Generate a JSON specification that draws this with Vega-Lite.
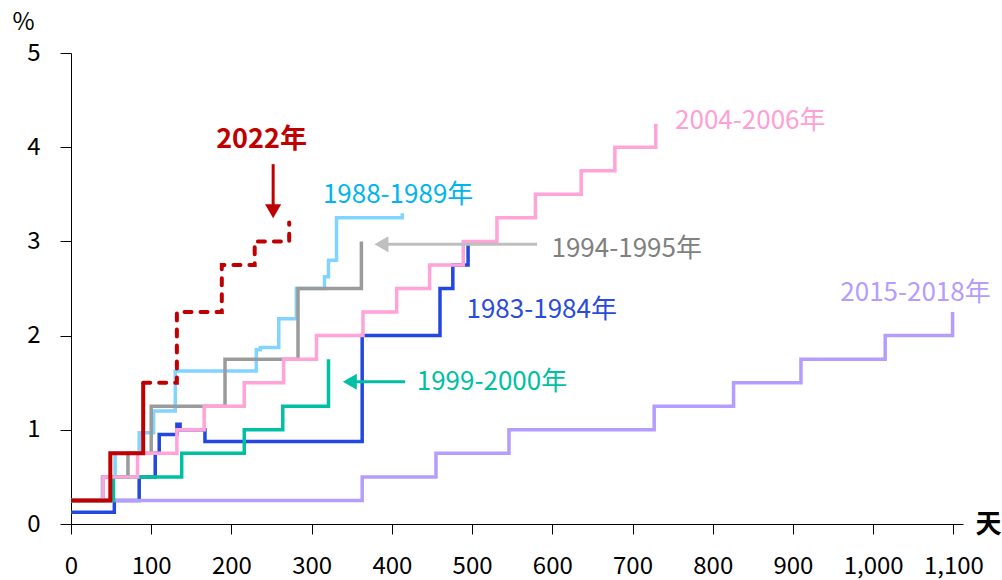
{
  "$schema": "https://vega.github.io/schema/vega-lite/v6.json",
  "width": 892,
  "height": 471,
  "autosize": {"type": "none"},
  "padding": {"left": 71, "top": 53, "right": 39, "bottom": 56},
  "config": {
    "view": {"stroke": null},
    "font": "Noto Sans CJK SC",
    "axis": {"grid": false, "domainColor": "#000000", "tickColor": "#000000", "labelColor": "#000000", "titleColor": "#000000", "labelFont": "Noto Sans CJK SC", "titleFont": "Noto Sans CJK SC"}
  },
  "datasets": {
    "lines": [
      {"series": "1983-1984", "day": 0, "value": 0.125},
      {"series": "1983-1984", "day": 54, "value": 0.25},
      {"series": "1983-1984", "day": 85, "value": 0.5},
      {"series": "1983-1984", "day": 105, "value": 0.75},
      {"series": "1983-1984", "day": 110, "value": 0.95},
      {"series": "1983-1984", "day": 132, "value": 1.06},
      {"series": "1983-1984", "day": 136, "value": 1.0},
      {"series": "1983-1984", "day": 167, "value": 0.875},
      {"series": "1983-1984", "day": 363, "value": 2.0},
      {"series": "1983-1984", "day": 460, "value": 2.5},
      {"series": "1983-1984", "day": 476, "value": 2.75},
      {"series": "1983-1984", "day": 495, "value": 3.0},

      {"series": "2015-2018", "day": 0, "value": 0.25},
      {"series": "2015-2018", "day": 363, "value": 0.5},
      {"series": "2015-2018", "day": 455, "value": 0.75},
      {"series": "2015-2018", "day": 546, "value": 1.0},
      {"series": "2015-2018", "day": 727, "value": 1.25},
      {"series": "2015-2018", "day": 826, "value": 1.5},
      {"series": "2015-2018", "day": 910, "value": 1.75},
      {"series": "2015-2018", "day": 1015, "value": 2.0},
      {"series": "2015-2018", "day": 1099, "value": 2.25},

      {"series": "1988-1989", "day": 0, "value": 0.25},
      {"series": "1988-1989", "day": 39, "value": 0.5},
      {"series": "1988-1989", "day": 55, "value": 0.75},
      {"series": "1988-1989", "day": 85, "value": 0.97},
      {"series": "1988-1989", "day": 103, "value": 1.2},
      {"series": "1988-1989", "day": 130, "value": 1.625},
      {"series": "1988-1989", "day": 231, "value": 1.85},
      {"series": "1988-1989", "day": 236, "value": 1.875},
      {"series": "1988-1989", "day": 259, "value": 2.18},
      {"series": "1988-1989", "day": 281, "value": 2.5},
      {"series": "1988-1989", "day": 316, "value": 2.625},
      {"series": "1988-1989", "day": 321, "value": 2.8},
      {"series": "1988-1989", "day": 331, "value": 3.25},
      {"series": "1988-1989", "day": 413, "value": 3.3},

      {"series": "1994-1995", "day": 0, "value": 0.25},
      {"series": "1994-1995", "day": 40, "value": 0.5},
      {"series": "1994-1995", "day": 71, "value": 0.75},
      {"series": "1994-1995", "day": 100, "value": 1.25},
      {"series": "1994-1995", "day": 192, "value": 1.75},
      {"series": "1994-1995", "day": 283, "value": 2.5},
      {"series": "1994-1995", "day": 362, "value": 3.0},

      {"series": "1999-2000", "day": 0, "value": 0.25},
      {"series": "1999-2000", "day": 53, "value": 0.5},
      {"series": "1999-2000", "day": 138, "value": 0.75},
      {"series": "1999-2000", "day": 216, "value": 1.0},
      {"series": "1999-2000", "day": 264, "value": 1.25},
      {"series": "1999-2000", "day": 321, "value": 1.75},

      {"series": "2004-2006", "day": 0, "value": 0.25},
      {"series": "2004-2006", "day": 40, "value": 0.5},
      {"series": "2004-2006", "day": 83, "value": 0.75},
      {"series": "2004-2006", "day": 132, "value": 1.0},
      {"series": "2004-2006", "day": 166, "value": 1.25},
      {"series": "2004-2006", "day": 216, "value": 1.5},
      {"series": "2004-2006", "day": 265, "value": 1.75},
      {"series": "2004-2006", "day": 306, "value": 2.0},
      {"series": "2004-2006", "day": 364, "value": 2.25},
      {"series": "2004-2006", "day": 406, "value": 2.5},
      {"series": "2004-2006", "day": 447, "value": 2.75},
      {"series": "2004-2006", "day": 489, "value": 3.0},
      {"series": "2004-2006", "day": 531, "value": 3.25},
      {"series": "2004-2006", "day": 579, "value": 3.5},
      {"series": "2004-2006", "day": 636, "value": 3.75},
      {"series": "2004-2006", "day": 678, "value": 4.0},
      {"series": "2004-2006", "day": 729, "value": 4.25},

      {"series": "2022a", "day": 0, "value": 0.25},
      {"series": "2022a", "day": 49, "value": 0.75},
      {"series": "2022a", "day": 90, "value": 1.5},

      {"series": "2022b", "day": 90, "value": 1.5},
      {"series": "2022b", "day": 132, "value": 2.25},
      {"series": "2022b", "day": 188, "value": 2.75},
      {"series": "2022b", "day": 229, "value": 3.0},
      {"series": "2022b", "day": 272, "value": 3.2}
    ],
    "labels": [
      {"series": "2022", "label": "2022年", "day": 181, "value": 4.08},
      {"series": "1988-1989", "label": "1988-1989年", "day": 314, "value": 3.49},
      {"series": "1994-1995", "label": "1994-1995年", "day": 599, "value": 2.92},
      {"series": "1983-1984", "label": "1983-1984年", "day": 493, "value": 2.27},
      {"series": "1999-2000", "label": "1999-2000年", "day": 431, "value": 1.51},
      {"series": "2004-2006", "label": "2004-2006年", "day": 753, "value": 4.28},
      {"series": "2015-2018", "label": "2015-2018年", "day": 959, "value": 2.45}
    ],
    "arrows": [
      {"series": "2022", "day": 252, "day2": 252, "value": 3.82, "value2": 3.36},
      {"series": "1994-1995", "day": 385, "day2": 581, "value": 2.97, "value2": 2.97},
      {"series": "1999-2000", "day": 346, "day2": 416.5, "value": 1.51, "value2": 1.51}
    ],
    "heads": [
      {"series": "2022", "day": 252, "value": 3.32, "dir": "triangle-down"},
      {"series": "1994-1995", "day": 387, "value": 2.97, "dir": "triangle-left"},
      {"series": "1999-2000", "day": 347.6, "value": 1.51, "dir": "triangle-left"}
    ]
  },
  "encoding": {
    "x": {"field": "day", "type": "quantitative", "scale": {"domain": [0, 1112], "nice": false},
      "axis": {"values": [0, 100, 200, 300, 400, 500, 600, 700, 800, 900, 1000, 1100], "format": ",d", "tickSize": 10, "labelPadding": 20, "labelFontSize": 24, "labelFlush": false, "labelOverlap": false, "labelBound": false,
        "title": "天", "titleFontSize": 26, "titleFontWeight": "bold", "titleX": 917, "titleY": 0, "titleAlign": "center", "titleBaseline": "middle", "titleAngle": 0}},
    "y": {"field": "value", "type": "quantitative", "scale": {"domain": [0, 5], "nice": false},
      "axis": {"values": [0, 1, 2, 3, 4, 5], "format": "d", "tickSize": 11, "labelPadding": 20, "labelFontSize": 24,
        "title": "%", "titleFontSize": 24, "titleFontWeight": "normal", "titleAngle": 0, "titleX": -48, "titleY": -31, "titleAlign": "center", "titleBaseline": "middle"}}
  },
  "layer": [
    {
      "data": {"name": "lines"},
      "transform": [{"filter": "datum.series === '1983-1984'"}],
      "mark": {"type": "line", "interpolate": "step-after", "strokeWidth": 3.5, "color": "#2248E0"}
    },
    {
      "data": {"name": "lines"},
      "transform": [{"filter": "datum.series === '2015-2018'"}],
      "mark": {"type": "line", "interpolate": "step-after", "strokeWidth": 3.5, "color": "#B59CFF"}
    },
    {
      "data": {"name": "lines"},
      "transform": [{"filter": "datum.series === '1988-1989'"}],
      "mark": {"type": "line", "interpolate": "step-after", "strokeWidth": 3.5, "color": "#80D4FF"}
    },
    {
      "data": {"name": "lines"},
      "transform": [{"filter": "datum.series === '1994-1995'"}],
      "mark": {"type": "line", "interpolate": "step-after", "strokeWidth": 3.5, "color": "#9B9B9B"}
    },
    {
      "data": {"name": "lines"},
      "transform": [{"filter": "datum.series === '1999-2000'"}],
      "mark": {"type": "line", "interpolate": "step-after", "strokeWidth": 3.5, "color": "#00BFA3"}
    },
    {
      "data": {"name": "lines"},
      "transform": [{"filter": "datum.series === '2004-2006'"}],
      "mark": {"type": "line", "interpolate": "step-after", "strokeWidth": 3.5, "color": "#FFA3D8"}
    },
    {
      "data": {"name": "lines"},
      "transform": [{"filter": "datum.series === '2022a'"}],
      "mark": {"type": "line", "interpolate": "step-after", "strokeWidth": 4, "color": "#C00000"}
    },
    {
      "data": {"name": "lines"},
      "transform": [{"filter": "datum.series === '2022b'"}],
      "mark": {"type": "line", "interpolate": "step-after", "strokeWidth": 4, "color": "#C00000", "strokeDash": [7, 9], "strokeCap": "round"}
    },
    {
      "data": {"name": "arrows"},
      "mark": {"type": "rule", "strokeWidth": 3},
      "encoding": {
        "x2": {"field": "day2"},
        "y2": {"field": "value2"},
        "color": {"field": "series", "type": "nominal", "legend": null,
          "scale": {"domain": ["2022", "1994-1995", "1999-2000"], "range": ["#C00000", "#BFBFBF", "#00BFA3"]}}
      }
    },
    {
      "data": {"name": "heads"},
      "mark": {"type": "point", "filled": true, "opacity": 1, "size": 260, "strokeWidth": 0},
      "encoding": {
        "shape": {"field": "dir", "type": "nominal", "legend": null, "scale": {"domain": ["triangle-down", "triangle-left"], "range": ["triangle-down", "triangle-left"]}},
        "color": {"field": "series", "type": "nominal", "legend": null,
          "scale": {"domain": ["2022", "1994-1995", "1999-2000"], "range": ["#C00000", "#BFBFBF", "#00BFA3"]}}
      }
    },
    {
      "data": {"name": "labels"},
      "transform": [{"filter": "datum.series !== '2022'"}],
      "mark": {"type": "text", "align": "left", "baseline": "middle", "fontSize": 26, "font": "Noto Sans CJK SC"},
      "encoding": {
        "text": {"field": "label"},
        "color": {"field": "series", "type": "nominal", "legend": null,
          "scale": {"domain": ["1988-1989", "1994-1995", "1983-1984", "1999-2000", "2004-2006", "2015-2018"], "range": ["#00B4EE", "#808080", "#2A4BDB", "#00BFA3", "#FF9FD5", "#B59CFF"]}}
      }
    },
    {
      "data": {"name": "labels"},
      "transform": [{"filter": "datum.series === '2022'"}],
      "mark": {"type": "text", "align": "left", "baseline": "middle", "fontSize": 27, "fontWeight": "bold", "font": "Noto Sans CJK SC", "color": "#C00000"},
      "encoding": {
        "text": {"field": "label"}
      }
    }
  ],
  "resolve": {"scale": {"color": "independent"}}
}
